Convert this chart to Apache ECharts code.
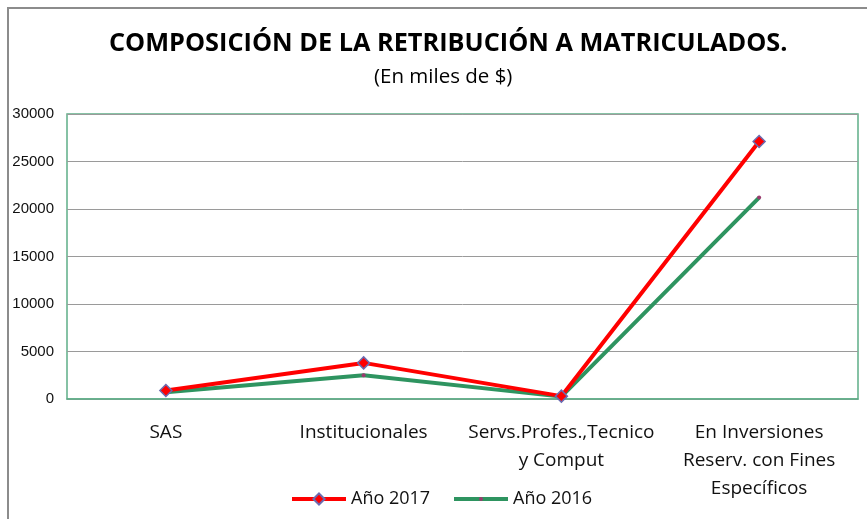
<!DOCTYPE html>
<html><head><meta charset="utf-8">
<script src="https://cdn.jsdelivr.net/npm/echarts@6/dist/echarts.min.js"></script>
<style>html,body{margin:0;padding:0;background:#fff}#c{width:867px;height:519px}</style>
</head><body><div id="c"></div>
<script>
const categories = ['SAS', 'Institucionales', 'Servs.Profes.,Tecnico\ny Comput', 'En Inversiones\nReserv. con Fines\nEspecíficos'];
const serie2017 = [900, 3800, 300, 27100];
const serie2016 = [700, 2500, 250, 21200];
const yTicks = [0, 5000, 10000, 15000, 20000, 25000, 30000];
const titleText = 'COMPOSICIÓN DE LA RETRIBUCIÓN A MATRICULADOS.';
const subtitleText = '(En miles de $)';
const legendNames = ['Año 2017', 'Año 2016'];

const font = 'Open Sans';
const chart = echarts.init(document.getElementById('c'), null, {renderer: 'canvas'});
const legendText = {fontFamily: font, fontSize: 18, color: '#111'};
chart.setOption({
  animation: false,
  title: [
    {text: titleText, left: 104, top: 26,
     textStyle: {fontFamily: font, fontWeight: 'bold', fontSize: 25.3, color: '#000'}},
    {text: subtitleText, left: 369, top: 62,
     textStyle: {fontFamily: font, fontWeight: 'normal', fontSize: 20.5, color: '#000'}}
  ],
  graphic: [
    {type: 'polyline', shape: {points: [[8, 519], [8, 8], [867, 8]]}, style: {stroke: '#8c8c8c', lineWidth: 2, fill: null}}
  ],
  legend: [
    {data: [legendNames[0]], top: 485, left: 285, itemWidth: 54, itemHeight: 14, itemGap: 4,
     lineStyle: {width: 4}, textStyle: legendText},
    {data: [legendNames[1]], top: 485, left: 447, itemWidth: 54, itemHeight: 5, itemGap: 4,
     lineStyle: {width: 4}, textStyle: legendText}
  ],
  grid: {left: 67, right: 9, top: 114, bottom: 120, show: true, borderColor: '#5fae88', borderWidth: 1.5, containLabel: false},
  xAxis: {
    type: 'category', data: categories, boundaryGap: true,
    axisLine: {lineStyle: {color: '#5fae88', width: 1.5}}, axisTick: {show: false},
    axisLabel: {fontFamily: font, fontSize: 19, color: '#111', margin: 20, lineHeight: 28, interval: 0}
  },
  yAxis: {
    type: 'value', min: yTicks[0], max: yTicks[yTicks.length - 1], interval: 5000,
    axisLine: {show: false}, axisTick: {show: false},
    axisLabel: {fontFamily: 'Liberation Sans', fontSize: 15, color: '#111', margin: 13, formatter: v => String(v)},
    splitLine: {lineStyle: {color: '#9a9a9a', width: 1}}
  },
  series: [
    {name: legendNames[0], type: 'line', data: serie2017, z: 3,
     lineStyle: {color: '#ff0000', width: 4}, itemStyle: {color: '#ff0000', borderColor: '#6b6bb0', borderWidth: 1.5},
     symbol: 'diamond', symbolSize: 12},
    {name: legendNames[1], type: 'line', data: serie2016, z: 2,
     lineStyle: {color: '#2e9460', width: 4}, itemStyle: {color: '#9b3a6e', borderWidth: 0},
     symbol: 'circle', symbolSize: 4}
  ]
});
</script></body></html>
